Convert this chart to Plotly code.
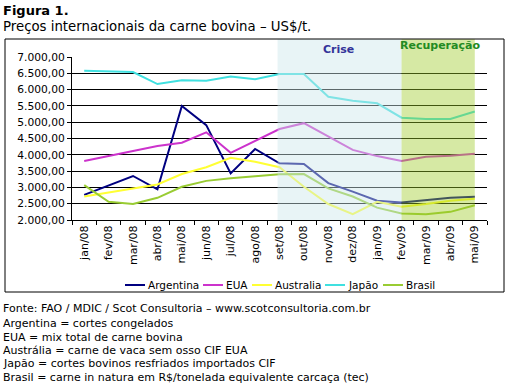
import plotly.graph_objects as go

months = ["jan/08", "fev/08", "mar/08", "abr/08", "mai/08", "jun/08", "jul/08", "ago/08",
          "set/08", "out/08", "nov/08", "dez/08", "jan/09", "fev/09", "mar/09", "abr/09", "mai/09"]

argentina = [2770, 3050, 3350, 2940, 5500, 4910, 3430, 4180, 3740, 3720, 3130, 2870, 2590, 2540, 2610, 2680, 2710]
eua       = [3810, 3960, 4130, 4270, 4370, 4690, 4060, 4430, 4790, 4970, 4560, 4150, 3960, 3810, 3940, 3970, 4030]
australia = [2720, 2840, 2970, 3090, 3410, 3620, 3910, 3790, 3620, 3020, 2490, 2180, 2560, 2410, 2490, 2590, 2650]
japao     = [6580, 6550, 6540, 6170, 6290, 6270, 6400, 6320, 6480, 6480, 5780, 5660, 5580, 5140, 5100, 5100, 5330]
brasil    = [3070, 2560, 2490, 2680, 3020, 3200, 3280, 3350, 3400, 3410, 2970, 2720, 2380, 2200, 2180, 2250, 2450]

series_names = ["Argentina", "EUA", "Australia", "Japão", "Brasil"]
series_values = [argentina, eua, australia, japao, brasil]
series_colors = ["#000080", "#cc33cc", "#ffff33", "#40e0e0", "#99cc33"]

y_ticks = [2000, 2500, 3000, 3500, 4000, 4500, 5000, 5500, 6000, 6500, 7000]
y_ticktext = ["2.000,00", "2.500,00", "3.000,00", "3.500,00", "4.000,00", "4.500,00",
              "5.000,00", "5.500,00", "6.000,00", "6.500,00", "7.000,00"]

notes = [
    "Fonte: FAO / MDIC / Scot Consultoria – www.scotconsultoria.com.br",
    "Argentina = cortes congelados",
    "EUA = mix total de carne bovina",
    "Austrália = carne de vaca sem osso CIF EUA",
    "Japão = cortes bovinos resfriados importados CIF",
    "Brasil = carne in natura em R$/tonelada equivalente carcaça (tec)",
]

W, H = 507, 385
L, R, T, B = 72, 20, 57, 165
PW, PH = W - L - R, H - T - B


def px(xp):
    return (xp - L) / PW


def py(yp):
    return (H - B - yp) / PH


FONT = "DejaVu Sans"

fig = go.Figure()
for name, vals, col in zip(series_names, series_values, series_colors):
    fig.add_trace(go.Scatter(x=months, y=vals, name=name, mode="lines",
                             line=dict(color=col, width=2), showlegend=False))

# shaded periods (drawn above lines, semi-transparent)
fig.add_shape(type="rect", xref="x", yref="paper", x0=7.92, x1=13, y0=0, y1=py(39),
              fillcolor="rgb(204,231,235)", opacity=0.45, line=dict(width=0), layer="above")
fig.add_shape(type="rect", xref="x", yref="paper", x0=13, x1=16, y0=0, y1=py(39),
              fillcolor="rgb(157,202,37)", opacity=0.42, line=dict(width=0), layer="above")

# outer chart box
fig.add_shape(type="rect", xref="paper", yref="paper", x0=px(5), x1=px(504), y0=py(292), y1=py(39),
              line=dict(color="black", width=1), fillcolor="rgba(0,0,0,0)", layer="above")

fig.add_annotation(text="<b>Crise</b>", xref="paper", yref="paper", x=px(338), y=py(49),
                   xanchor="center", yanchor="middle",
                   showarrow=False, font=dict(family=FONT, size=11, color="#333399"))
fig.add_annotation(text="<b>Recuperação</b>", xref="paper", yref="paper", x=px(440), y=py(46),
                   xanchor="center", yanchor="middle",
                   showarrow=False, font=dict(family=FONT, size=11, color="#228b22"))

fig.add_annotation(text="<b>Figura 1.</b>", xref="paper", yref="paper", x=px(1), y=py(10),
                   xanchor="left", yanchor="middle", showarrow=False,
                   font=dict(family=FONT, size=13, color="black"))
fig.add_annotation(text="Preços internacionais da carne bovina – US$/t.", xref="paper", yref="paper",
                   x=px(1), y=py(27), xanchor="left", yanchor="middle", showarrow=False,
                   font=dict(family=FONT, size=13.3, color="black"))

note_y = [308, 323, 337, 350, 363, 377]
for t, yy in zip(notes, note_y):
    fig.add_annotation(text=t, xref="paper", yref="paper", x=px(1), y=py(yy), xanchor="left",
                       yanchor="middle", showarrow=False,
                       font=dict(family=FONT, size=11, color="black"))

# custom compact legend
leg_x = [125, 203, 252, 325, 383]
leg_y = 285
for name, col, lx in zip(series_names, series_colors, leg_x):
    fig.add_shape(type="line", xref="paper", yref="paper", x0=px(lx), x1=px(lx + 20),
                  y0=py(leg_y), y1=py(leg_y), line=dict(color=col, width=2))
    fig.add_annotation(text=name, xref="paper", yref="paper", x=px(lx + 21), y=py(leg_y),
                       xanchor="left", yanchor="middle", showarrow=False,
                       font=dict(family=FONT, size=10.5, color="black"))

fig.update_layout(
    width=W, height=H,
    margin=dict(l=L, r=R, t=T, b=B),
    paper_bgcolor="white", plot_bgcolor="white",
    font=dict(family=FONT, size=10, color="black"),
    showlegend=False,
    xaxis=dict(type="category", showgrid=False, showline=True, linecolor="black", linewidth=1,
               ticks="outside", tickson="boundaries", ticklen=4, tickcolor="black",
               tickangle=-90, tickfont=dict(family=FONT, size=11), range=[-0.5, 16.5],
               fixedrange=True),
    yaxis=dict(range=[2000, 7000], tickvals=y_ticks, ticktext=y_ticktext,
               showgrid=True, gridcolor="black", gridwidth=1, showline=True, linecolor="black",
               ticks="outside", ticklen=4, tickcolor="black", zeroline=False,
               tickfont=dict(family=FONT, size=10.7)),
)

fig.write_html("out.html", config={"displayModeBar": False},
               post_script="document.body.style.margin='0px';")
